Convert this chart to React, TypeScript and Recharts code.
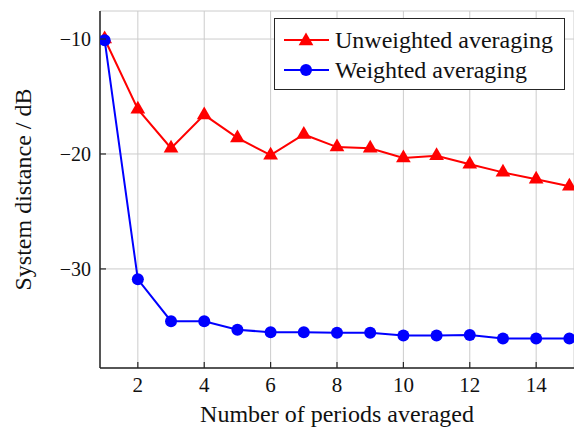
import { CartesianGrid, Line, LineChart, XAxis, YAxis } from 'recharts'

const periods = [1, 2, 3, 4, 5, 6, 7, 8, 9, 10, 11, 12, 13, 14, 15]
const unweighted = [
  -10.0, -16.1, -19.5, -16.6, -18.6, -20.1, -18.3, -19.4, -19.5, -20.35, -20.15, -20.9, -21.6, -22.2, -22.8,
]
const weighted = [
  -10.1, -30.9, -34.55, -34.55, -35.3, -35.5, -35.5, -35.55, -35.55, -35.8, -35.8, -35.75, -36.05, -36.05, -36.05,
]
const xTicks = [2, 4, 6, 8, 10, 12, 14]
const yTicks = [-30, -20, -10]

const FONT = "'Liberation Serif', 'Times New Roman', serif"
const AXIS = '#262626'

const data = periods.map((p, i) => ({
  period: p,
  unweighted: unweighted[i],
  weighted: weighted[i],
}))

const fmt = (v: number) => (v < 0 ? `\u2212${Math.abs(v)}` : `${v}`)

function Triangle({ cx, cy, r = 8.5, fill }: { cx: number; cy: number; r?: number; fill: string }) {
  const pts = [
    [cx, cy - r],
    [cx - 0.866 * r, cy + 0.5 * r],
    [cx + 0.866 * r, cy + 0.5 * r],
  ]
  return <polygon points={pts.map((p) => p.join(',')).join(' ')} fill={fill} />
}

function BottomTick(props: any) {
  const { x, y, payload } = props
  const axisY = y - 2
  return (
    <g>
      <line x1={x} x2={x} y1={axisY} y2={axisY - 6} stroke={AXIS} strokeWidth={1.2} />
      <text x={x} y={axisY + 24} textAnchor='middle' style={{ fontFamily: FONT, fontSize: 21 }} fill='#111'>
        {fmt(payload.value)}
      </text>
    </g>
  )
}

function LeftTick(props: any) {
  const { x, y, payload } = props
  const axisX = x + 2
  return (
    <g>
      <line x1={axisX} x2={axisX + 6} y1={y} y2={y} stroke={AXIS} strokeWidth={1.2} />
      <text x={axisX - 9} y={y + 7} textAnchor='end' style={{ fontFamily: FONT, fontSize: 20 }} fill='#111'>
        {fmt(payload.value)}
      </text>
    </g>
  )
}

function LegendBox() {
  const rows = [
    { label: 'Unweighted averaging', color: '#ff0000', shape: 'triangle' },
    { label: 'Weighted averaging', color: '#0000ff', shape: 'circle' },
  ]
  return (
    <div
      style={{
        position: 'absolute',
        left: 274,
        top: 18,
        border: `1.5px solid ${AXIS}`,
        background: '#fff',
        width: 291,
        height: 72,
        boxSizing: 'border-box',
        padding: '6px 0 0 8px',
        fontFamily: FONT,
        fontSize: 24,
        color: '#111',
      }}
    >
      {rows.map((r) => (
        <div key={r.label} style={{ display: 'flex', alignItems: 'center', height: 30 }}>
          <svg width={52} height={24}>
            <line x1={1} x2={46} y1={12} y2={12} stroke={r.color} strokeWidth={2} />
            {r.shape === 'triangle' ? (
              <Triangle cx={23} cy={13} fill={r.color} />
            ) : (
              <circle cx={23} cy={12} r={6} fill={r.color} />
            )}
          </svg>
          <span style={{ lineHeight: '30px' }}>{r.label}</span>
        </div>
      ))}
    </div>
  )
}

export default function App() {
  return (
    <div style={{ position: 'absolute', left: 0, top: 0, width: 574, height: 430 }}>
      <LineChart width={574} height={430} data={data} margin={{ top: 11, right: 0, bottom: 0, left: 0 }}>
        <CartesianGrid stroke='#cccccc' strokeWidth={1} />
        <XAxis
          dataKey='period'
          type='number'
          domain={[0.86, 15.14]}
          ticks={xTicks}
          allowDataOverflow
          height={62}
          tickSize={0}
          tickMargin={2}
          axisLine={{ stroke: AXIS, strokeWidth: 1.5 }}
          tick={<BottomTick />}
          label={(p: any) => {
            const vb = p.viewBox
            return (
              <text
                x={vb.x + vb.width / 2}
                y={422}
                textAnchor='middle'
                style={{ fontFamily: FONT, fontSize: 24 }}
                fill='#111'
              >
                Number of periods averaged
              </text>
            )
          }}
        />
        <XAxis
          xAxisId='top'
          orientation='top'
          dataKey='period'
          type='number'
          domain={[0.86, 15.14]}
          height={0}
          tick={false}
          tickLine={false}
          axisLine={{ stroke: AXIS, strokeWidth: 1.5 }}
        />
        <YAxis
          type='number'
          domain={[-38.62, -7.56]}
          ticks={yTicks}
          allowDataOverflow
          width={100}
          tickSize={0}
          tickMargin={2}
          axisLine={{ stroke: AXIS, strokeWidth: 1.5 }}
          tick={<LeftTick />}
          label={(p: any) => {
            const vb = p.viewBox
            const cy = vb.y + vb.height / 2
            return (
              <text
                x={31}
                y={cy}
                transform={`rotate(-90 31 ${cy})`}
                textAnchor='middle'
                style={{ fontFamily: FONT, fontSize: 24 }}
                fill='#111'
              >
                System distance / dB
              </text>
            )
          }}
        />
        <Line
          dataKey='unweighted'
          stroke='#ff0000'
          strokeWidth={2}
          isAnimationActive={false}
          dot={(p: any) => <Triangle key={`t${p.index}`} cx={p.cx} cy={p.cy} fill='#ff0000' />}
        />
        <Line
          dataKey='weighted'
          stroke='#0000ff'
          strokeWidth={2}
          isAnimationActive={false}
          dot={(p: any) => <circle key={`c${p.index}`} cx={p.cx} cy={p.cy} r={6} fill='#0000ff' />}
        />
      </LineChart>
      <LegendBox />
    </div>
  )
}
